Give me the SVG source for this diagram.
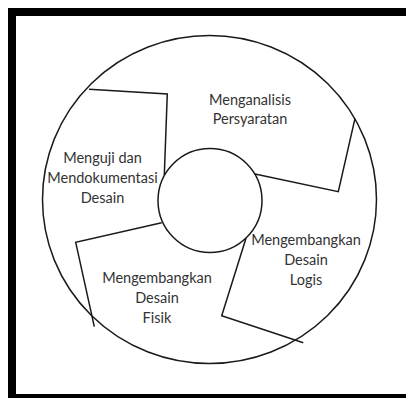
<svg xmlns="http://www.w3.org/2000/svg" width="406" height="398" viewBox="0 0 406 398">
<style>
.ln{fill:none;stroke:#1a1a1a;stroke-width:1.5;stroke-linejoin:miter}
.t{font-family:Lato,"Open Sans","Liberation Sans",sans-serif;font-size:14.5px;fill:#333;text-anchor:middle}
</style>
<rect x="0" y="0" width="406" height="398" fill="#fff"/>
<rect x="12" y="12" width="410" height="386" fill="none" stroke="#000" stroke-width="8"/>
<g id="outer"><ellipse class="ln" cx="209.5" cy="199.5" rx="167" ry="164"/></g>
<g id="inner"><circle class="ln" cx="210" cy="200.5" r="52"/></g>
<g id="connectors">
<polyline class="ln" points="89,89.3 167.3,94 164.3,175"/>
<polyline class="ln" points="355,118.3 338.3,191.7 255,174"/>
<polyline class="ln" points="246,238.3 221.7,315.7 303.3,342.7"/>
<polyline class="ln" points="161.7,222.7 75.7,242.3 94.3,326.7"/>
</g>
<g id="n1"><text class="t" x="250" y="105">Menganalisis</text><text class="t" x="250" y="124">Persyaratan</text></g>
<g id="n2"><text class="t" x="102.5" y="162.7">Menguji dan</text><text class="t" x="102.5" y="182.7">Mendokumentasi</text><text class="t" x="102.5" y="202.7">Desain</text></g>
<g id="n3"><text class="t" x="306" y="245">Mengembangkan</text><text class="t" x="306" y="265">Desain</text><text class="t" x="306" y="285">Logis</text></g>
<g id="n4"><text class="t" x="157" y="282.7">Mengembangkan</text><text class="t" x="157" y="302.7">Desain</text><text class="t" x="157" y="322.7">Fisik</text></g>
</svg>
